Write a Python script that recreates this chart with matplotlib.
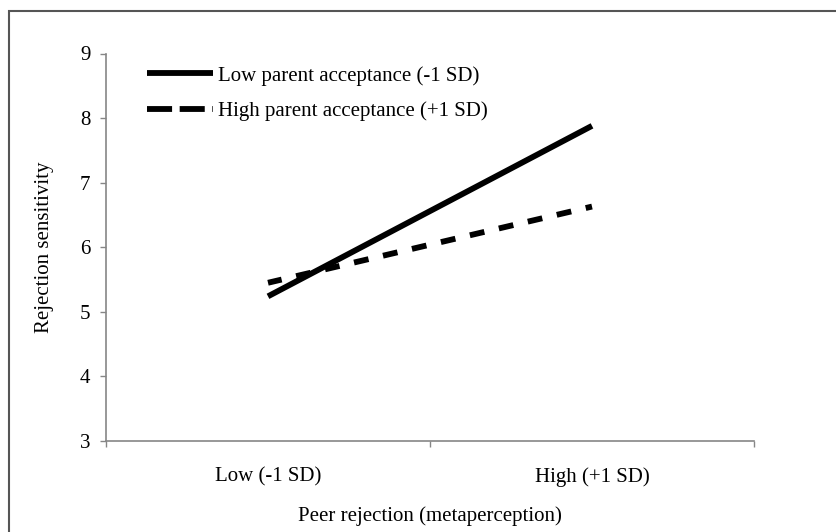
import matplotlib
matplotlib.use("Agg")
import matplotlib.pyplot as plt
from matplotlib.lines import Line2D
from matplotlib.patches import Rectangle

categories = ["Low (-1 SD)", "High (+1 SD)"]
low_parent_acceptance = [5.24, 7.88]
high_parent_acceptance = [5.45, 6.63]
series_labels = ["Low parent acceptance (-1 SD)", "High parent acceptance (+1 SD)"]
y_ticks = [3, 4, 5, 6, 7, 8, 9]
x_title = "Peer rejection (metaperception)"
y_title = "Rejection sensitivity"

plt.rcParams['font.family'] = ['Liberation Serif', 'DejaVu Serif']
plt.rcParams['font.size'] = 15

W, H = 836, 532
fig = plt.figure(figsize=(W / 100, H / 100), dpi=100)
ax = fig.add_axes([106 / W, 1 - 441 / H, (754 - 106) / W, (441 - 53.5) / H])

x = list(range(len(categories)))
ax.plot(x, low_parent_acceptance, color='black', lw=4.2, solid_capstyle='butt')
ax.plot(x, high_parent_acceptance, color='black', lw=4.2, linestyle=(0.15, (2.55, 2.55)),
        dash_capstyle='butt')

ax.set_xlim(-0.5, len(categories) - 0.5)
ax.set_ylim(3, 9)
ax.set_yticks(y_ticks)
ax.set_yticklabels([str(v) for v in y_ticks])

ax.set_xticks([i - 0.5 for i in range(len(categories) + 1)])
ax.set_xticklabels([])
ax.set_xticks(x, minor=True)
ax.set_xticklabels(categories, minor=True)

axis_color = '#868686'
for s in ['top', 'right']:
    ax.spines[s].set_visible(False)
for s in ['left', 'bottom']:
    ax.spines[s].set_color(axis_color)
    ax.spines[s].set_linewidth(1.2)

ax.tick_params(axis='y', which='major', direction='out', length=4.3, width=1.0,
               color=axis_color, pad=7, labelsize=15)
ax.tick_params(axis='x', which='major', direction='out', length=4.3, width=1.0,
               color=axis_color)
ax.tick_params(axis='x', which='minor', length=0, pad=19, labelsize=15)

ax.set_xlabel(x_title, fontsize=15)
ax.xaxis.set_label_coords(0.5, (441 - 516) / (441 - 53.5))
ax.xaxis.label.set_va('center')
ax.set_ylabel(y_title, fontsize=15)
ax.yaxis.set_label_coords((45 - 106) / (754 - 106), 0.5)
ax.yaxis.label.set_va('center')

handles = [
    Line2D([], [], color='black', lw=4.2, solid_capstyle='butt'),
    Line2D([], [], color='black', lw=4.2, linestyle=(0, (4.3, 1.3)), dash_capstyle='butt'),
]
ax.legend(handles, series_labels, loc='upper left',
          bbox_to_anchor=(147 / W, 1 - 66 / H), bbox_transform=fig.transFigure,
          frameon=False, borderpad=0, borderaxespad=0, handlelength=3.17,
          handletextpad=0.24, labelspacing=0.75, fontsize=15)

fig.patches.append(Rectangle((9 / W, -0.2), 1.5, 1 - 11 / H + 0.2, transform=fig.transFigure,
                             fill=False, edgecolor='#555555', lw=1.5))

fig.savefig('out.png', dpi=100)
